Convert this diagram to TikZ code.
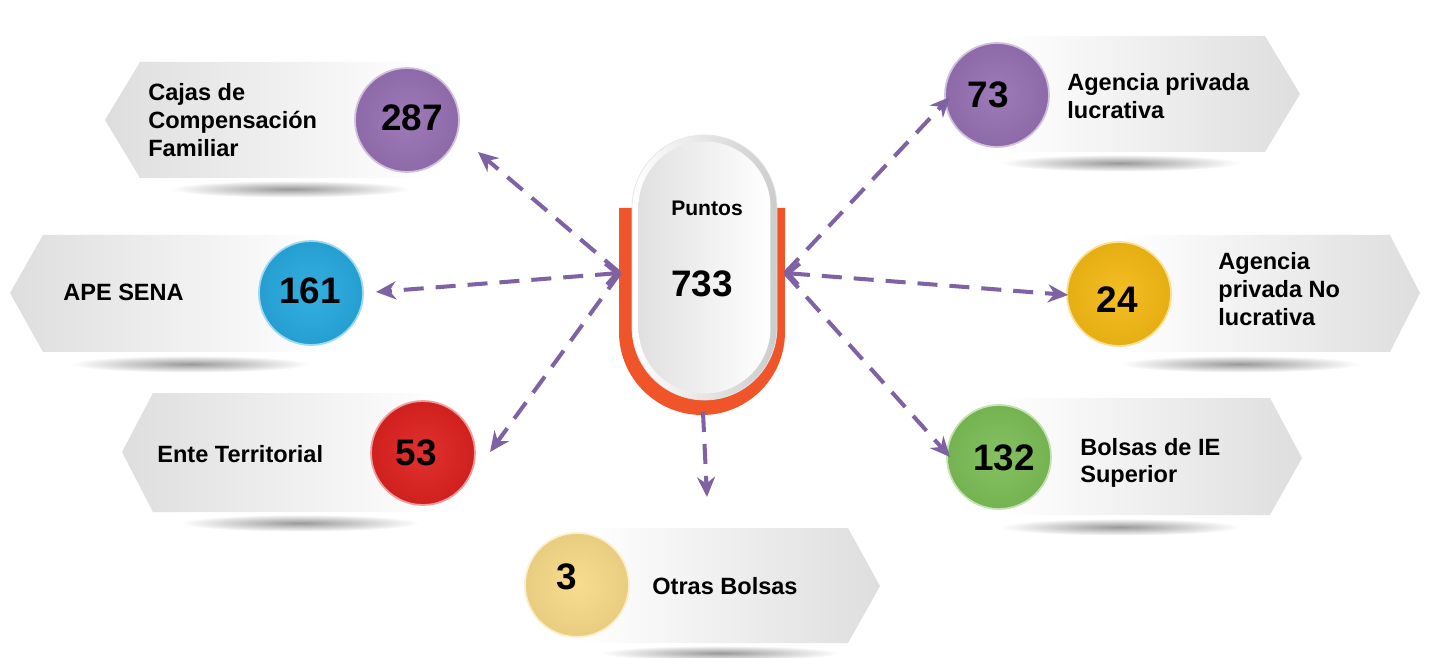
\documentclass[tikz,border=0pt]{standalone}
\usepackage{fontspec}
\setmainfont{Liberation Sans}
\usetikzlibrary{arrows.meta}
\definecolor{lila}{HTML}{9670B3}
\definecolor{celeste}{HTML}{27A8DE}
\definecolor{rojo}{HTML}{DD2220}
\definecolor{ambar}{HTML}{F4B914}
\definecolor{verde}{HTML}{7CBD55}
\definecolor{crema}{HTML}{F7DA88}
\definecolor{naranja}{HTML}{EF5528}
\definecolor{morado}{HTML}{7E62A4}

\begin{document}
\begin{tikzpicture}[x=0.02cm, y=-0.02cm,
		lshade/.style={left color=black!13, right color=white},
		rshade/.style={left color=white, right color=black!13},
		sombra/.style={inner color=black!40, outer color=white},
		bola/.style={circle, minimum size=2.08cm, inner sep=0pt, shade, inner color=#1!93!white, outer color=#1!94!black, draw=#1!45!white, line width=1pt},
		cifra/.style={inner sep=0pt, font=\fontsize{21}{24}\selectfont\bfseries},
		rotulo/.style={anchor=west, align=left, inner sep=0pt, font=\fontsize{13.4}{15.8}\selectfont\bfseries},
		enlace/.style={draw=morado, line width=2.3pt, dash pattern=on 0.4cm off 0.24cm},
		punta/.style={-{Stealth[length=0.4cm, width=0.36cm]}},
		doble/.style={{Straight Barb[length=0.22cm, width=0.42cm]}-{Stealth[length=0.4cm, width=0.36cm]}}
	]
		\useasboundingbox (0,0) rectangle (1433,658);
		
		% shadows and boxes, left
		\shade[sombra] (290,189) ellipse (2.4cm and 0.17cm);
		\shade[lshade] (105,120) -- (140,62) -- (430,62) -- (430,178) -- (140,178) -- cycle;
		\shade[sombra] (190,364) ellipse (2.4cm and 0.17cm);
		\shade[lshade] (10,293) -- (43,235) -- (330,235) -- (330,352) -- (43,352) -- cycle;
		\shade[sombra] (300,523) ellipse (2.4cm and 0.17cm);
		\shade[lshade] (122,452) -- (153,393) -- (445,393) -- (445,512) -- (153,512) -- cycle;
		
		% shadows and boxes, right
		\shade[sombra] (1120,163) ellipse (2.4cm and 0.17cm);
		\shade[rshade] (1000,36) -- (1265,36) -- (1300,94) -- (1265,152) -- (1000,152) -- cycle;
		\shade[sombra] (1240,364) ellipse (2.4cm and 0.17cm);
		\shade[rshade] (1120,235) -- (1390,235) -- (1420,293) -- (1390,352) -- (1120,352) -- cycle;
		\shade[sombra] (1120,527) ellipse (2.4cm and 0.17cm);
		\shade[rshade] (1000,398) -- (1270,398) -- (1302,458) -- (1270,515) -- (1000,515) -- cycle;
		\shade[sombra] (720,653) ellipse (2.4cm and 0.15cm);
		\shade[rshade] (580,528) -- (848,528) -- (880,586) -- (848,643) -- (580,643) -- cycle;
		
		% circles
		\node [bola=lila] (n287) at (407,120) {};
		\node [bola=celeste] (n161) at (311,293) {};
		\node [bola=rojo] (n53) at (423,453) {};
		\node [bola=lila] (n73) at (997,95) {};
		\node [bola=ambar] (n24) at (1119,294) {};
		\node [bola=verde] (n132) at (999,457) {};
		\node [bola=crema] (n3) at (577,585) {};
		
		\node [cifra] (t287) at (412,118) {287};
		\node [cifra] (t161) at (310,291) {161};
		\node [cifra] (t53) at (416,453) {53};
		\node [cifra] (t73) at (988,95) {73};
		\node [cifra] (t24) at (1117,300) {24};
		\node [cifra] (t132) at (1004,458) {132};
		\node [cifra] (t3) at (567,577) {3};
		
		% labels
		\node [rotulo] (cajas) at (148,120) {Cajas de\\Compensación\\Familiar};
		\node [rotulo] (sena) at (63,292) {APE SENA};
		\node [rotulo] (ente) at (157,454) {Ente Territorial};
		\node [rotulo] (lucro) at (1067,96) {Agencia privada\\lucrativa};
		\node [rotulo] (nolucro) at (1218,289) {Agencia\\privada No\\lucrativa};
		\node [rotulo] (superior) at (1080,463) {Bolsas de IE\\Superior};
		\node [rotulo] (otras) at (652,586) {Otras Bolsas};
		
		% centre
		\fill[naranja] (619,208) -- (619,332) arc[start angle=180, end angle=360, radius=1.66cm] -- (785,208) -- cycle;
		\node [rectangle, rounded corners=1.45cm, minimum width=2.9cm, minimum height=5.3cm, left color=white, right color=black!20, draw=black!10] (pill) at (704.5,267.5) {};
		\node [rectangle, rounded corners=1.32cm, minimum width=2.64cm, minimum height=5.04cm, left color=black!12, right color=white] (core) at (704.5,267.5) {};
		\node [inner sep=0pt, font=\fontsize{12}{14}\selectfont\bfseries] (puntos) at (707,208) {Puntos};
		\node [cifra] (total) at (702,284) {733};
		
		\coordinate (hubL) at (620,273);
		\coordinate (hubR) at (785,273);
		\coordinate (hubB) at (703,412);
		\coordinate (a287) at (478,152);
		\coordinate (a161) at (376,292);
		\coordinate (a53) at (490,452);
		\coordinate (a73) at (950,97);
		\coordinate (a24) at (1068,295);
		\coordinate (a132) at (950,457);
		\coordinate (a3) at (707,497);
		
		% connectors
		\draw[enlace, punta]
		(hubL) -- (a287);
		\draw[enlace, doble]
		(hubL) -- (a161);
		\draw[enlace, punta]
		(hubL) -- (a53);
		\draw[enlace, punta]
		(hubR) -- (a73);
		\draw[enlace, doble]
		(hubR) -- (a24);
		\draw[enlace, punta]
		(hubR) -- (a132);
		\draw[enlace, punta]
		(hubB) -- (a3);
		
	\end{tikzpicture}
\end{document}
